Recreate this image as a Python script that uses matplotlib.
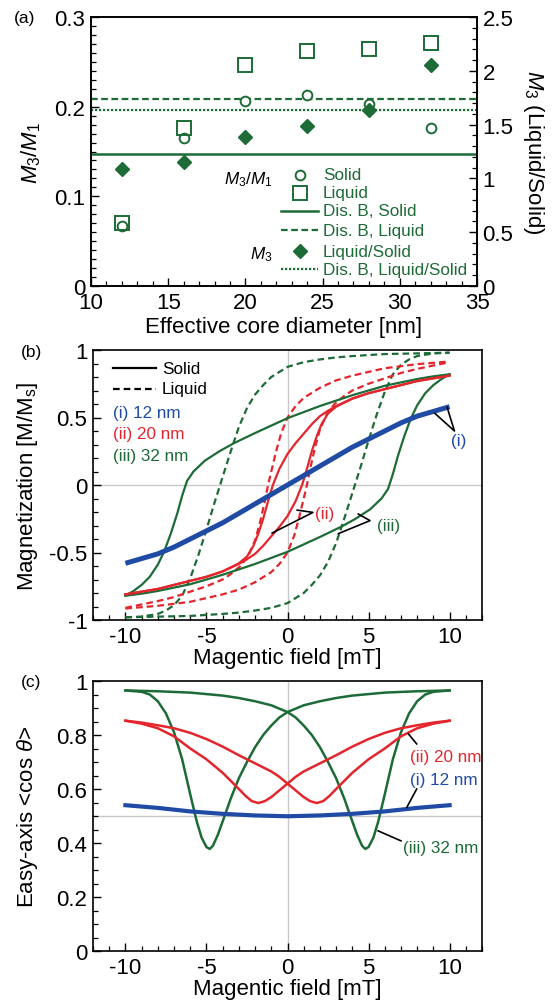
import matplotlib
matplotlib.use("Agg")
import matplotlib.pyplot as plt
from matplotlib.ticker import MultipleLocator

plt.rcParams['font.family'] = ['Liberation Sans', 'DejaVu Sans']
plt.rcParams['mathtext.fontset'] = 'custom'
plt.rcParams['mathtext.rm'] = 'Liberation Sans'
plt.rcParams['mathtext.it'] = 'Liberation Sans:italic'
plt.rcParams['mathtext.bf'] = 'Liberation Sans:bold'

GREEN = '#1d6b36'
RED = '#e3262d'
BLUE = '#1f4ba5'
ZERO = '#c8c8c8'

# ---- (a) harmonic ratio vs core diameter
diameter = [12, 16, 20, 24, 28, 32]
ratio_solid = [0.067, 0.165, 0.206, 0.213, 0.203, 0.176]
ratio_liquid = [0.070, 0.176, 0.246, 0.262, 0.264, 0.271]
m3_liq_sol = [1.09, 1.15, 1.385, 1.49, 1.64, 2.055]
disb_solid = 0.1476
disb_liquid = 0.208
disb_liq_sol = 1.637

# ---- (b) magnetization loops, field in mT
h12 = [-10, -9, -8, -7, -6, -5, -4, -3, -2, -1, 0, 1, 2, 3, 4, 5, 6, 7, 8, 9, 10]
m12 = [-0.58, -0.545, -0.51, -0.46, -0.40, -0.34, -0.28, -0.21, -0.14, -0.07, 0.0,
       0.07, 0.14, 0.21, 0.28, 0.34, 0.40, 0.46, 0.51, 0.545, 0.58]

r_sol_up_h = [-10, -8, -6, -5, -4, -3, -2.5, -2.1, -1.8, -1.5, -1.2, -0.9, -0.5, 0, 0.5, 1, 1.5, 2, 2.5, 3, 4, 5, 6, 8, 10]
r_sol_up_m = [-0.81, -0.77, -0.71, -0.68, -0.64, -0.58, -0.53, -0.45, -0.36, -0.25, -0.12, 0.0, 0.12, 0.23,
              0.31, 0.38, 0.45, 0.51, 0.55, 0.585, 0.64, 0.68, 0.71, 0.77, 0.81]
r_sol_lo_h = [-10, -8, -6, -5, -4, -3, -2.5, -2, -1.5, -1, -0.5, 0, 0.5, 0.9, 1.2, 1.5, 1.8, 2.1, 2.5, 3, 4, 5, 6, 8, 10]
r_sol_lo_m = [-0.81, -0.77, -0.71, -0.68, -0.64, -0.585, -0.55, -0.51, -0.45, -0.38, -0.31, -0.23, -0.12, 0.0,
              0.12, 0.25, 0.36, 0.45, 0.53, 0.58, 0.64, 0.68, 0.71, 0.77, 0.81]

r_liq_up_h = [-10, -9, -8, -7, -6, -5, -4, -3.5, -2.9, -2.4, -2, -1.7, -1.4, -1.2, -1, -0.7, -0.4, 0, 0.5, 1, 2, 3, 4, 6, 8, 10]
r_liq_up_m = [-0.91, -0.885, -0.86, -0.83, -0.79, -0.75, -0.70, -0.66, -0.60, -0.52, -0.41, -0.28, -0.12, 0.0,
              0.10, 0.25, 0.38, 0.50, 0.585, 0.645, 0.72, 0.775, 0.81, 0.865, 0.895, 0.915]
r_liq_lo_h = [-10, -8, -6, -4, -3, -2, -1, -0.5, 0, 0.4, 0.7, 1, 1.2, 1.4, 1.7, 2, 2.4, 2.9, 3.5, 4, 5, 6, 7, 8, 9, 10]
r_liq_lo_m = [-0.915, -0.895, -0.865, -0.81, -0.775, -0.72, -0.645, -0.585, -0.50, -0.38, -0.25, -0.10, 0.0,
              0.12, 0.28, 0.41, 0.52, 0.60, 0.66, 0.70, 0.75, 0.79, 0.83, 0.86, 0.885, 0.91]

g_sol_up_h = [-10, -9.5, -9, -8.5, -8, -7.6, -7.2, -6.8, -6.5, -6.2, -5.8, -5.1, -4.2, -3.3, -2, -1, 0, 1, 2, 3, 4, 5, 6, 7, 8, 9, 10]
g_sol_up_m = [-0.82, -0.785, -0.74, -0.68, -0.59, -0.49, -0.36, -0.21, -0.08, 0.03, 0.10, 0.18, 0.25, 0.31,
              0.385, 0.44, 0.495, 0.54, 0.585, 0.625, 0.665, 0.70, 0.735, 0.76, 0.785, 0.805, 0.82]
g_sol_lo_h = [-10, -9, -8, -7, -6, -5, -4, -3, -2, -1, 0, 1, 2, 3.3, 4.2, 5.1, 5.8, 6.2, 6.5, 6.8, 7.2, 7.6, 8, 8.5, 9, 9.5, 10]
g_sol_lo_m = [-0.82, -0.805, -0.785, -0.76, -0.735, -0.70, -0.665, -0.625, -0.585, -0.54, -0.495, -0.44,
              -0.385, -0.31, -0.25, -0.18, -0.10, -0.03, 0.08, 0.21, 0.36, 0.49, 0.59, 0.68, 0.74, 0.785, 0.82]

g_liq_up_h = [-10, -9, -8, -7.5, -7, -6.5, -6, -5.5, -5, -4.5, -4, -3.5, -3, -2.5, -2, -1.5, -1, 0, 1, 2, 3, 4, 6, 8, 10]
g_liq_up_m = [-0.98, -0.975, -0.955, -0.93, -0.89, -0.82, -0.69, -0.52, -0.33, -0.13, 0.06, 0.25, 0.43, 0.57,
              0.67, 0.74, 0.80, 0.875, 0.91, 0.93, 0.945, 0.955, 0.97, 0.975, 0.98]
g_liq_lo_h = [-10, -8, -6, -4, -3, -2, -1, 0, 1, 1.5, 2, 2.5, 3, 3.5, 4, 4.5, 5, 5.5, 6, 6.5, 7, 7.5, 8, 9, 10]
g_liq_lo_m = [-0.98, -0.975, -0.97, -0.955, -0.945, -0.93, -0.91, -0.875, -0.80, -0.74, -0.67, -0.57, -0.43,
              -0.25, -0.06, 0.13, 0.33, 0.52, 0.69, 0.82, 0.89, 0.93, 0.955, 0.975, 0.98]

# ---- (c) easy-axis alignment
cb_h = [-10, -8, -6, -4, -2, 0, 2, 4, 6, 8, 10]
cb_m = [0.54, 0.53, 0.517, 0.508, 0.502, 0.499, 0.502, 0.508, 0.517, 0.53, 0.54]

cr_a_h = [-10, -9, -8, -7, -6, -5, -4, -3, -2, -1, -0.5, 0, 0.5, 1, 1.4, 1.8, 2.2, 2.6, 3, 3.5, 4, 5, 6, 7, 8, 9, 10]
cr_a_m = [0.853, 0.846, 0.836, 0.825, 0.808, 0.785, 0.757, 0.725, 0.695, 0.665, 0.645, 0.62, 0.595, 0.57,
          0.555, 0.548, 0.555, 0.575, 0.60, 0.63, 0.66, 0.71, 0.75, 0.795, 0.825, 0.842, 0.853]
cr_b_h = [-10, -9, -8, -7, -6, -5, -4, -3.5, -3, -2.6, -2.2, -1.8, -1.4, -1, -0.5, 0, 0.5, 1, 2, 3, 4, 5, 6, 7, 8, 9, 10]
cr_b_m = [0.853, 0.842, 0.825, 0.795, 0.75, 0.71, 0.66, 0.63, 0.60, 0.575, 0.555, 0.548, 0.555, 0.57, 0.595,
          0.62, 0.645, 0.665, 0.695, 0.725, 0.757, 0.785, 0.808, 0.825, 0.836, 0.846, 0.853]

cg_a_h = [-10, -8, -6, -4, -3, -2, -1, 0, 0.5, 1, 1.5, 2, 2.5, 3, 3.5, 4, 4.3, 4.6, 4.8, 5.0, 5.3, 5.6, 6, 6.5, 7, 7.5, 8, 8.5, 9, 10]
cg_a_m = [0.965, 0.962, 0.957, 0.946, 0.937, 0.925, 0.91, 0.885, 0.865, 0.835, 0.80, 0.755, 0.70, 0.64, 0.565,
          0.48, 0.43, 0.39, 0.378, 0.385, 0.42, 0.48, 0.58, 0.71, 0.81, 0.88, 0.925, 0.95, 0.96, 0.965]
cg_b_h = [-10, -9, -8.5, -8, -7.5, -7, -6.5, -6, -5.6, -5.3, -5.0, -4.8, -4.6, -4.3, -4, -3.5, -3, -2.5, -2, -1.5, -1, -0.5, 0, 1, 2, 3, 4, 6, 8, 10]
cg_b_m = [0.965, 0.96, 0.95, 0.925, 0.88, 0.81, 0.71, 0.58, 0.48, 0.42, 0.385, 0.378, 0.39, 0.43, 0.48, 0.565,
          0.64, 0.70, 0.755, 0.80, 0.835, 0.865, 0.885, 0.91, 0.925, 0.937, 0.946, 0.957, 0.962, 0.965]


def style(ax):
    ax.tick_params(which='both', direction='in', labelsize=16, top=False, right=False)
    ax.tick_params(which='major', length=6, width=1.0, pad=4)
    ax.tick_params(which='minor', length=3.5, width=0.9)
    for s in ax.spines.values():
        s.set_linewidth(1.2)


fig = plt.figure(figsize=(5.52, 10.03), dpi=100)
W, H = 552.0, 1003.0

# ================= (a)
ax = fig.add_axes([91 / W, 1 - 287 / H, 386 / W, 269 / H])
ax2 = ax.twinx()
style(ax)
style(ax2)
ax2.tick_params(which='both', right=True, left=False, labelright=True, labelleft=False)
ax.set_xlim(10, 35)
ax.set_ylim(0, 0.3)
ax2.set_ylim(0, 2.5)
ax.xaxis.set_major_locator(MultipleLocator(5))
ax.xaxis.set_minor_locator(MultipleLocator(1))
ax.yaxis.set_major_locator(MultipleLocator(0.1))
ax.yaxis.set_minor_locator(MultipleLocator(0.01))
ax2.yaxis.set_major_locator(MultipleLocator(0.5))
ax2.yaxis.set_minor_locator(MultipleLocator(0.1))
ax.set_yticks([0, 0.1, 0.2, 0.3], ['0', '0.1', '0.2', '0.3'])
ax2.set_yticks([0, 0.5, 1, 1.5, 2, 2.5], ['0', '0.5', '1', '1.5', '2', '2.5'])

ax.axhline(disb_solid, color=GREEN, lw=1.8)
ax.axhline(disb_liquid, color=GREEN, lw=1.6, ls=(0, (3, 1.6)))
ax2.axhline(disb_liq_sol, color=GREEN, lw=1.6, ls=(0, (1, 0.8)))
ax.plot(diameter, ratio_solid, 'o', ms=7, mfc='white', mec=GREEN, mew=1.4, ls='none', clip_on=False)
ax.plot(diameter, ratio_liquid, 's', ms=9.5, mfc='none', mec=GREEN, mew=1.4, ls='none', clip_on=False)
ax2.plot(diameter, m3_liq_sol, 'D', ms=7.5, color=GREEN, ls='none', clip_on=False)

ax.set_xlabel('Effective core diameter [nm]', fontsize=16)
ax.xaxis.set_label_coords(0.5, -0.112)
ax.set_ylabel(r'$M_3$/$M_1$', fontsize=16)
ax.yaxis.set_label_coords(-0.125, 0.5)
ax2.set_ylabel(r'$M_3$ (Liquid/Solid)', fontsize=16, rotation=270, va='bottom')
ax2.yaxis.set_label_coords(1.115, 0.5)

# hand-placed legend
tr = ax.transAxes
hx0, hx1, hm, tx = 0.492, 0.588, 0.541, 0.601
rows = [0.413, 0.346, 0.279, 0.208, 0.130, 0.063]
ax.plot([hm], [rows[0]], 'o', ms=7, mfc='white', mec=GREEN, mew=1.4, transform=tr)
ax.plot([hm], [rows[1]], 's', ms=9.5, mfc='none', mec=GREEN, mew=1.4, transform=tr)
ax.plot([hx0, hx1], [rows[2]] * 2, color=GREEN, lw=1.8, transform=tr)
ax.plot([hx0, hx1], [rows[3]] * 2, color=GREEN, lw=1.6, ls=(0, (3, 1.6)), transform=tr)
ax.plot([hm], [rows[4]], 'D', ms=7.5, color=GREEN, transform=tr)
ax.plot([hx0, hx1], [rows[5]] * 2, color=GREEN, lw=1.6, ls=(0, (1, 0.8)), transform=tr)
for y, s in zip(rows, ['Solid', 'Liquid', 'Dis. B, Solid', 'Dis. B, Liquid', 'Liquid/Solid', 'Dis. B, Liquid/Solid']):
    ax.text(tx, y, s, color=GREEN, fontsize=12.3, va='center', ha='left', transform=tr)
ax.text(0.4715, 0.400, r'$M_3$/$M_1$', fontsize=12.3, ha='right', va='center', transform=tr)
ax.text(0.469, 0.122, r'$M_3$', fontsize=12.3, ha='right', va='center', transform=tr)

fig.text(14 / W, 1 - 18 / H, '(a)', fontsize=12.5, va='center')

# ================= (b)
bx = fig.add_axes([93 / W, 1 - 621 / H, 389 / W, 270 / H])
style(bx)
bx.set_xlim(-12, 12)
bx.set_ylim(-1, 1)
bx.xaxis.set_major_locator(MultipleLocator(5))
bx.xaxis.set_minor_locator(MultipleLocator(1))
bx.yaxis.set_major_locator(MultipleLocator(0.5))
bx.yaxis.set_minor_locator(MultipleLocator(0.1))
bx.set_yticks([-1, -0.5, 0, 0.5, 1], ['-1', '-0.5', '0', '0.5', '1'])
bx.set_xticks([-10, -5, 0, 5, 10], ['-10', '-5', '0', '5', '10'])
bx.axhline(0, color=ZERO, lw=1.0, zorder=0)
bx.axvline(0, color=ZERO, lw=1.0, zorder=0)

dash = (0, (3, 1.8))
bx.plot(g_liq_up_h, g_liq_up_m, color=GREEN, lw=1.6, ls=dash)
bx.plot(g_liq_lo_h, g_liq_lo_m, color=GREEN, lw=1.6, ls=dash)
bx.plot(r_liq_up_h, r_liq_up_m, color=RED, lw=1.6, ls=dash)
bx.plot(r_liq_lo_h, r_liq_lo_m, color=RED, lw=1.6, ls=dash)
bx.plot(g_sol_up_h, g_sol_up_m, color=GREEN, lw=1.6)
bx.plot(g_sol_lo_h, g_sol_lo_m, color=GREEN, lw=1.6)
bx.plot(r_sol_up_h, r_sol_up_m, color=RED, lw=1.6)
bx.plot(r_sol_lo_h, r_sol_lo_m, color=RED, lw=1.6)
bx.plot(h12, m12, color=BLUE, lw=3.6, solid_capstyle='butt')

# pointers
bx.plot([9.1, 10.3, 9.85], [0.53, 0.40, 0.575], color='k', lw=1.2)
bx.text(10.1, 0.33, '(i)', color=BLUE, fontsize=12.3, va='center')
bx.plot([0.6, 1.57, -0.95], [-0.186, -0.203, -0.356], color='k', lw=1.2)
bx.text(1.7, -0.21, '(ii)', color=RED, fontsize=12.3, va='center')
bx.plot([4.37, 5.09, 3.14], [-0.215, -0.264, -0.36], color='k', lw=1.2)
bx.text(5.5, -0.30, '(iii)', color=GREEN, fontsize=12.3, va='center')

tb = bx.transAxes
bx.plot([0.051, 0.162], [0.933, 0.933], color='k', lw=1.6, transform=tb)
bx.plot([0.051, 0.162], [0.856, 0.856], color='k', lw=1.6, ls=dash, transform=tb)
bx.text(0.177, 0.933, 'Solid', fontsize=12.3, va='center', transform=tb)
bx.text(0.177, 0.856, 'Liquid', fontsize=12.3, va='center', transform=tb)
bx.text(0.051, 0.770, '(i) 12 nm', color=BLUE, fontsize=12.3, va='center', transform=tb)
bx.text(0.051, 0.689, '(ii) 20 nm', color=RED, fontsize=12.3, va='center', transform=tb)
bx.text(0.051, 0.611, '(iii) 32 nm', color=GREEN, fontsize=12.3, va='center', transform=tb)

bx.set_xlabel('Magentic field [mT]', fontsize=16)
bx.xaxis.set_label_coords(0.5, -0.10)
bx.set_ylabel(r'Magnetization [M/M$_\mathrm{s}$]', fontsize=16)
bx.yaxis.set_label_coords(-0.135, 0.5)
fig.text(21 / W, 1 - 353 / H, '(b)', fontsize=12.5, va='center')

# ================= (c)
cx = fig.add_axes([93 / W, 1 - 952 / H, 389 / W, 270 / H])
style(cx)
cx.set_xlim(-12, 12)
cx.set_ylim(0, 1)
cx.xaxis.set_major_locator(MultipleLocator(5))
cx.xaxis.set_minor_locator(MultipleLocator(1))
cx.yaxis.set_major_locator(MultipleLocator(0.2))
cx.yaxis.set_minor_locator(MultipleLocator(0.05))
cx.set_yticks([0, 0.2, 0.4, 0.6, 0.8, 1], ['0', '0.2', '0.4', '0.6', '0.8', '1'])
cx.set_xticks([-10, -5, 0, 5, 10], ['-10', '-5', '0', '5', '10'])
cx.axhline(0.5, color=ZERO, lw=1.0, zorder=0)
cx.axvline(0, color=ZERO, lw=1.0, zorder=0)

cx.plot(cg_a_h, cg_a_m, color=GREEN, lw=1.8)
cx.plot(cg_b_h, cg_b_m, color=GREEN, lw=1.8)
cx.plot(cr_a_h, cr_a_m, color=RED, lw=1.8)
cx.plot(cr_b_h, cr_b_m, color=RED, lw=1.8)
cx.plot(cb_h, cb_m, color=BLUE, lw=3.0)

cx.plot([7.46, 7.97], [0.804, 0.767], color='k', lw=1.2)
cx.text(7.56, 0.722, '(ii) 20 nm', color=RED, fontsize=12.3, va='center')
cx.plot([7.36, 7.97], [0.532, 0.60], color='k', lw=1.2)
cx.text(7.56, 0.634, '(i) 12 nm', color=BLUE, fontsize=12.3, va='center')
cx.plot([5.59, 7.0], [0.445, 0.408], color='k', lw=1.2)
cx.text(7.1, 0.385, '(iii) 32 nm', color=GREEN, fontsize=12.3, va='center')

cx.set_xlabel('Magentic field [mT]', fontsize=16)
cx.xaxis.set_label_coords(0.5, -0.10)
cx.set_ylabel(r'Easy-axis <cos $\theta$>', fontsize=16)
cx.yaxis.set_label_coords(-0.135, 0.5)
fig.text(21 / W, 1 - 683 / H, '(c)', fontsize=12.5, va='center')

fig.savefig('out.png', dpi=100)
